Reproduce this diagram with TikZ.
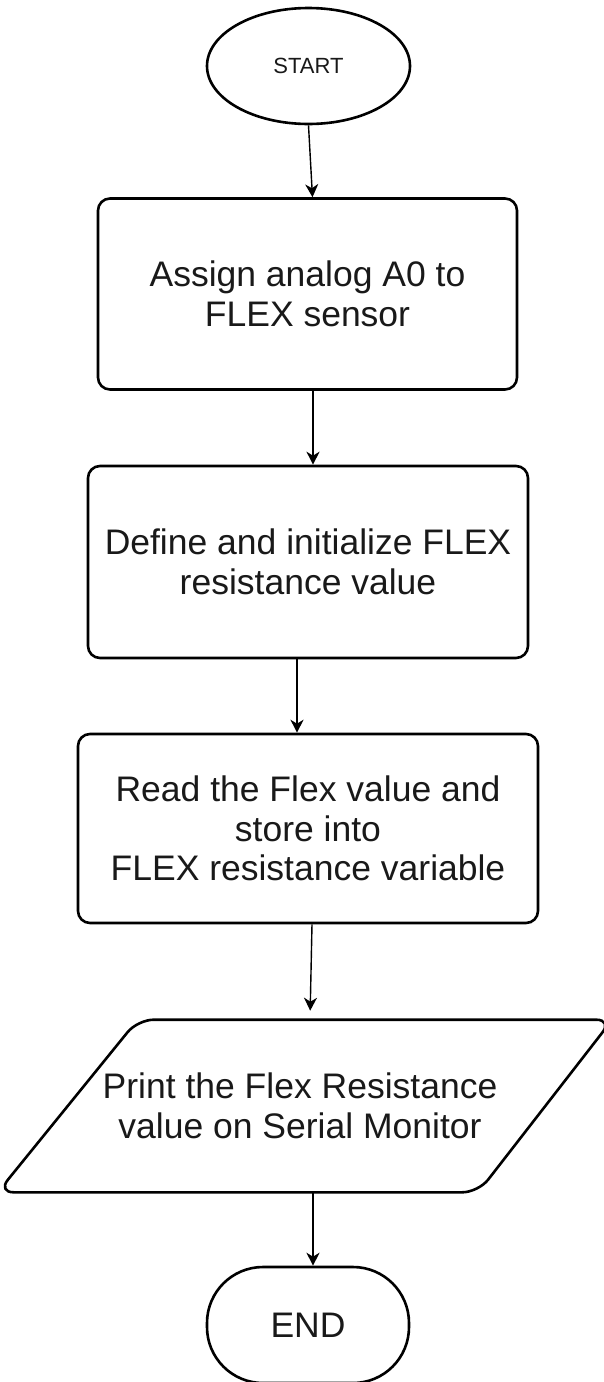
\documentclass[tikz,border=0pt]{standalone}
\usepackage{fontspec}
\setmainfont{Liberation Sans}
\usetikzlibrary{shapes.geometric,arrows.meta,calc}
\begin{document}
\begin{tikzpicture}[x=1pt,y=-1pt,
  shapeline/.style={draw=black, line width=2.6pt},
  bigtext/.style={font=\fontsize{35.5pt}{39.5pt}\selectfont, align=center, text=black!90},
  procbox/.style={shapeline, bigtext, rectangle, rounded corners=12pt, inner sep=0pt},
  arr/.style={-{Stealth[length=13pt,width=13pt,inset=4pt]}, line width=1.4pt}
]
\useasboundingbox (0,0) rectangle (603,1382);

\node[shapeline, ellipse, minimum width=203pt, minimum height=116pt, inner sep=0pt,
      font=\fontsize{22pt}{26pt}\selectfont, text=black!90] (start) at (308.5,66) {START};

\node[procbox, minimum width=419pt, minimum height=191pt] (b1) at (307.5,294)
  {Assign analog A0 to\\FLEX sensor};

\node[procbox, minimum width=440pt, minimum height=192pt] (b2) at (308,562)
  {Define and initialize FLEX\\resistance value};

\node[procbox, minimum width=460pt, minimum height=189pt] (b3) at (308,828.5)
  {Read the Flex value and\\store into\\FLEX resistance variable};

\node[bigtext, rectangle, minimum width=478pt, minimum height=170pt, inner sep=0pt,
      outer sep=1.3pt] (para) at (300,1106)
  {Print the Flex Resistance\\value on Serial Monitor};
\draw[shapeline, rounded corners=16pt]
  (para.north) -- ([xshift=72pt]para.north east) -- ([xshift=-62pt]para.south east)
  -- ([xshift=-62pt]para.south west) -- ([xshift=78pt]para.north west) -- cycle;

\node[shapeline, bigtext, rectangle, rounded corners=56pt, minimum width=202pt,
      minimum height=116pt, inner sep=0pt] (stop) at (308,1325) {END};

\draw[arr] (start.south) -- ([xshift=5pt]b1.north);
\draw[arr] ([xshift=5.5pt]b1.south) -- ([xshift=5pt]b2.north);
\draw[arr] ([xshift=-11pt]b2.south) -- ([xshift=-11pt]b3.north);
\draw[arr, shorten >=9pt] ([xshift=4pt]b3.south) -- ($(b3.south |- para.north)+(2pt,0)$);
\draw[arr] ($(stop.north |- para.south)+(5pt,0)$) -- ([xshift=5pt]stop.north);
\end{tikzpicture}
\end{document}
